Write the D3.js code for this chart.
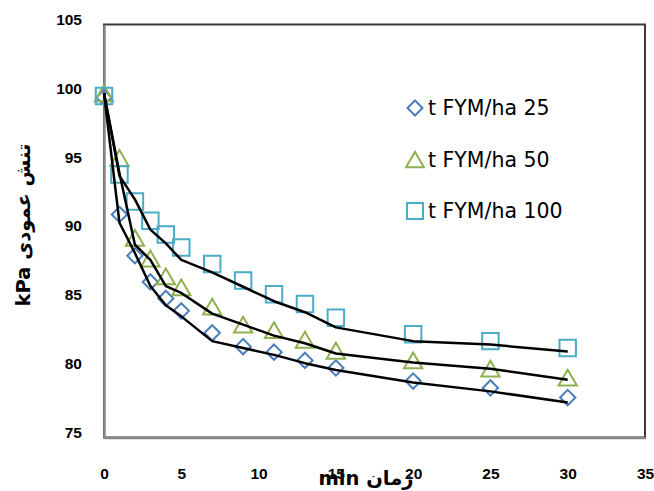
<!DOCTYPE html>
<html>
<head>
<meta charset="utf-8">
<script src="https://cdn.jsdelivr.net/npm/d3@7"></script>
<style>
  body { margin: 0; background: #fff; }
  svg { display: block; }
</style>
</head>
<body>
<div id="chart"></div>
<script>
// time (min)
var timeMin = [0, 1, 2, 3, 4, 5, 7, 9, 11, 13, 15, 20, 25, 30];

// measured vertical stress (kPa)
var obs25  = [99.7, 91.2, 88.2, 86.3, 85.1, 84.2, 82.6, 81.6, 81.2, 80.6, 80.05, 79.1, 78.6, 77.9];
var obs50  = [100, 95.3, 89.5, 88.0, 86.7, 85.9, 84.5, 83.2, 82.8, 82.1, 81.3, 80.6, 80.0, 79.35];
var obs100 = [99.8, 94.1, 92.15, 90.75, 89.75, 88.8, 87.6, 86.4, 85.4, 84.7, 83.7, 82.5, 82.0, 81.5];

// fitted curves (black lines)
var fit25  = [100, 90.6, 88.4, 86.0, 84.6, 83.8, 82.0, 81.5, 81.0, 80.4, 79.9, 79.0, 78.35, 77.55];
var fit50  = [100, 94.2, 89.0, 87.9, 86.0, 85.5, 84.0, 83.2, 82.4, 81.85, 81.1, 80.45, 80.0, 79.2];
var fit100 = [100, 94.0, 92.3, 90.1, 89.1, 87.9, 87.0, 85.95, 84.9, 84.1, 83.0, 82.0, 81.75, 81.25];

var seriesNames = ["t FYM/ha 25", "t FYM/ha 50", "t FYM/ha 100"];
var xTicks = [0, 5, 10, 15, 20, 25, 30, 35];
var yTicks = [75, 80, 85, 90, 95, 100, 105];

var width = 654, height = 491;
var plotLeft = 104, plotRight = 645, plotTop = 24.5, plotBottom = 437.5;

var svg = d3.select("#chart").append("svg")
    .attr("width", width)
    .attr("height", height);

var x = d3.scaleLinear().domain([0, 35]).range([plotLeft, plotRight]);
var y = d3.scaleLinear().domain([75, 105]).range([plotBottom, plotTop]);

// plot area border
svg.append("rect")
    .attr("x", plotLeft).attr("y", plotTop)
    .attr("width", plotRight - plotLeft).attr("height", plotBottom - plotTop)
    .attr("fill", "none")
    .attr("stroke", "#3a3a3a")
    .attr("stroke-width", 2);

// axes (grey, no tick marks)
var yAxis = svg.append("g")
    .attr("transform", "translate(" + plotLeft + ",0)")
    .call(d3.axisLeft(y).tickValues(yTicks).tickSize(0).tickPadding(22));
var xAxis = svg.append("g")
    .attr("transform", "translate(0," + plotBottom + ")")
    .call(d3.axisBottom(x).tickValues(xTicks).tickSize(0).tickPadding(30));

[yAxis, xAxis].forEach(function(ax) {
    ax.select(".domain").attr("stroke", "#888").attr("stroke-width", 2.5);
    ax.selectAll("text")
        .attr("fill", "#000")
        .style("font-family", "'Liberation Sans', Arial, sans-serif")
        .style("font-weight", "bold")
        .style("font-size", "15.5px");
});
// labels sit a little above their values in the reference
yAxis.selectAll(".tick text").attr("y", -5);

var series = [
    { name: seriesNames[0], obs: obs25,  fit: fit25,  color: "#4a7ebb", type: d3.symbolDiamond2,  size: 150, shift: 0 },
    { name: seriesNames[1], obs: obs50,  fit: fit50,  color: "#8fb04f", type: d3.symbolTriangle2, size: 240, shift: 2.6 },
    { name: seriesNames[2], obs: obs100, fit: fit100, color: "#4bacc6", type: d3.symbolSquare2,   size: 345, shift: 0 }
];

// markers
series.forEach(function(s) {
    var sym = d3.symbol().type(s.type).size(s.size);
    svg.append("g").selectAll("path")
        .data(timeMin.map(function(t, i) { return [t, s.obs[i]]; }))
        .enter()
        .append("path")
        .attr("d", sym)
        .attr("transform", function(d) { return "translate(" + x(d[0]) + "," + (y(d[1]) + s.shift) + ")"; })
        .attr("fill", "none")
        .attr("stroke", s.color)
        .attr("stroke-width", 2);
});

// fitted lines
var line = d3.line()
    .x(function(d) { return x(d[0]); })
    .y(function(d) { return y(d[1]); });

series.forEach(function(s) {
    svg.append("path")
        .datum(timeMin.map(function(t, i) { return [t, s.fit[i]]; }))
        .attr("d", line)
        .attr("fill", "none")
        .attr("stroke", "#000")
        .attr("stroke-width", 2.5)
        .attr("stroke-linejoin", "round");
});

// legend
var legend = svg.append("g").attr("transform", "translate(415,108)");
series.forEach(function(s, i) {
    var row = legend.append("g").attr("transform", "translate(0," + (i * 51.5) + ")");
    row.append("path")
        .attr("d", d3.symbol().type(s.type).size(s.size * 0.95))
        .attr("transform", "translate(0," + s.shift + ")")
        .attr("fill", "none")
        .attr("stroke", s.color)
        .attr("stroke-width", 2);
    row.append("text")
        .attr("x", 13)
        .attr("dy", "0.36em")
        .style("font-family", "'DejaVu Sans', sans-serif")
        .style("font-size", "20.5px")
        .text(s.name);
});

// axis titles
svg.append("text")
    .attr("transform", "translate(30,225) rotate(-90)")
    .attr("text-anchor", "middle")
    .attr("direction", "rtl")
    .style("font-family", "'DejaVu Sans', sans-serif")
    .style("font-weight", "bold")
    .style("font-size", "19.5px")
    .text("تنش عمودی kPa");

svg.append("text")
    .attr("x", 366)
    .attr("y", 485)
    .attr("text-anchor", "middle")
    .attr("direction", "rtl")
    .style("font-family", "'DejaVu Sans', sans-serif")
    .style("font-weight", "bold")
    .style("font-size", "19.5px")
    .text("زمان min");
</script>
</body>
</html>
